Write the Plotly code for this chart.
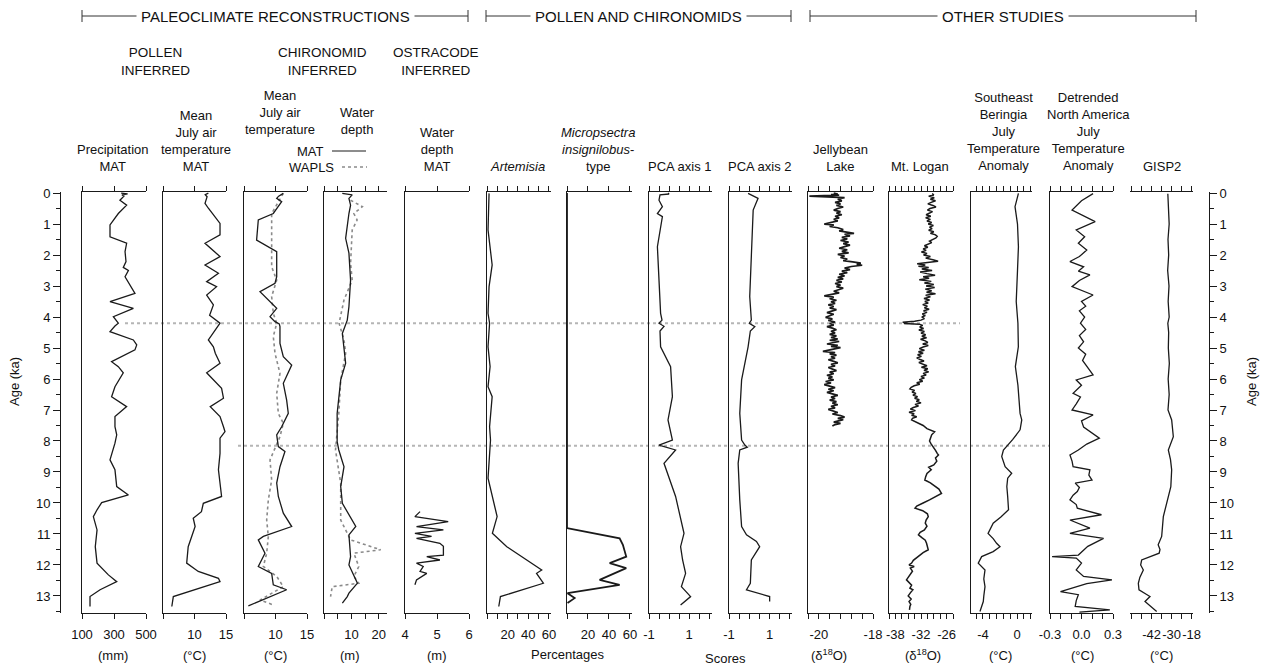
import plotly.graph_objects as go

W, H = 1271, 669
TOP_PX, BOT_PX = 191.5, 613.0
AGE_RANGE = [13.55, -0.05]
INK = "#1a1a1a"
FONT = "Liberation Sans, Arial, sans-serif"

# ---------------- data (age in ka) ----------------
precip_age = [0.00, 0.03, 0.06, 0.10, 0.23, 0.39, 0.66, 1.03, 1.41, 1.62, 1.89, 2.21, 2.40, 2.50, 2.70,
              3.24, 3.50, 3.72, 3.99, 4.20, 4.29, 4.47, 4.74, 4.90, 5.06, 5.44, 5.60, 5.80, 6.25, 6.57,
              6.89, 7.21, 7.54, 7.80, 8.07, 8.61, 8.93, 9.47, 9.74, 9.99, 10.22, 10.44, 10.87, 11.41,
              11.94, 12.32, 12.54, 12.80, 13.02, 13.34]
precip_mm = [345, 385, 350, 362, 337, 379, 327, 275, 275, 379, 369, 375, 358, 390, 369,
             431, 275, 421, 296, 327, 306, 275, 421, 442, 431, 285, 327, 358, 306, 285,
             379, 306, 306, 317, 306, 275, 306, 317, 390, 223, 194, 171, 194, 183,
             194, 265, 317, 213, 150, 150]

pollen_t_age = [0.00, 0.05, 0.12, 0.33, 0.49, 0.98, 1.35, 1.62, 2.05, 2.32, 2.59, 2.86, 3.02, 3.29, 3.61,
                3.94, 4.20, 4.74, 4.96, 5.17, 5.49, 5.80, 6.30, 6.62, 6.89, 7.21, 7.54, 7.70, 7.91,
                8.40, 8.93, 9.79, 10.01, 10.28, 10.49, 10.76, 11.41, 11.94, 12.21, 12.43, 12.54,
                13.02, 13.34]
pollen_t_val = [12.2, 11.7, 12.0, 11.67, 12.2, 14.05, 14.05, 11.67, 14.05, 11.67, 13.8, 11.93, 13.5, 11.93, 13.0,
                12.4, 14.05, 12.2, 13.0, 13.3, 14.05, 11.93, 14.3, 14.6, 12.5, 14.05, 14.6, 14.84, 14.05,
                14.05, 13.8, 14.3, 11.4, 11.1, 9.8, 10.1, 9.0, 8.76, 10.6, 13.8, 14.05,
                6.64, 6.4]

chiro_t_age = [0.01, 0.10, 0.17, 0.28, 0.66, 0.87, 1.52, 1.89, 2.70, 2.91, 3.18, 3.72, 3.99, 4.15, 4.22,
               4.31, 4.85, 5.28, 5.55, 6.14, 6.68, 7.11, 7.54, 7.80, 8.18, 8.34, 8.83, 9.36, 9.79, 10.33,
               10.76, 11.08, 11.19, 11.62, 12.05, 12.27, 12.64, 12.80, 13.32]
chiro_t_mat = [11.24, 10.5, 10.19, 10.98, 9.65, 7.27, 7.0, 10.19, 10.19, 9.92, 7.54, 10.19, 9.13, 9.92, 10.6,
               10.71, 10.71, 11.24, 12.57, 11.24, 11.77, 12.03, 10.98, 10.19, 10.45, 11.5, 10.71, 10.19, 10.45, 11.24,
               12.57, 8.07, 7.27, 8.33, 7.27, 9.39, 9.65, 11.77, 5.69]
chiro_t_w_age = [0.01, 0.66, 1.73, 2.38, 2.81, 3.34, 3.88, 4.20, 4.63, 5.17, 5.82, 6.46, 7.11, 7.43, 7.86,
                 8.40, 8.61, 9.26, 9.90, 10.55, 11.08, 11.62, 12.05, 12.37, 12.70, 13.13, 13.29]
chiro_t_wapls = [11.24, 9.39, 9.39, 9.39, 10.19, 9.39, 9.65, 10.19, 9.65, 9.92, 10.71, 10.19, 10.45, 11.24, 10.71,
                 9.65, 9.13, 9.39, 8.86, 8.6, 8.86, 8.6, 8.07, 10.19, 11.24, 7.54, 9.65]

chiro_d_age = [0.01, 0.06, 0.17, 0.39, 0.66, 1.09, 1.46, 1.94, 2.81, 3.67, 4.10, 4.53, 4.96, 5.49, 6.03,
               7.11, 7.54, 8.02, 8.29, 8.83, 9.47, 10.01, 10.76, 11.03, 11.73, 12.00, 12.59, 12.91, 13.02, 13.23]
chiro_d_mat = [6.67, 10.3, 9.1, 9.7, 9.1, 8.5, 7.9, 9.1, 9.7, 9.1, 8.5, 6.7, 7.3, 7.9, 6.1,
               4.8, 4.8, 4.8, 5.4, 7.3, 6.1, 6.7, 11.6, 9.1, 9.7, 9.1, 12.2, 9.1, 8.5, 6.7]
chiro_d_w_age = [0.23, 0.44, 0.66, 0.87, 1.19, 2.27, 2.81, 3.45, 4.20, 4.74, 5.17, 6.03, 7.11, 8.29, 9.36,
                 10.55, 11.19, 11.51, 11.62, 12.05, 12.37, 12.59, 12.70, 13.02]
chiro_d_wapls = [9.7, 14.0, 10.9, 12.1, 10.3, 9.7, 10.3, 7.3, 5.5, 7.3, 7.9, 6.1, 5.4, 4.2, 6.1,
                 6.1, 9.7, 20.7, 10.9, 12.7, 10.9, 12.7, 3.0, 2.4]

ostra_age = [10.28, 10.44, 10.60, 10.76, 10.87, 10.98, 11.08, 11.14, 11.30, 11.40, 11.68, 11.73, 11.84,
             11.94, 12.05, 12.21, 12.27, 12.48, 12.64]
ostra_depth = [4.47, 4.31, 5.35, 4.36, 5.20, 4.31, 4.83, 4.36, 5.09, 5.20, 5.20, 4.68, 5.09,
               4.36, 4.57, 4.47, 4.68, 4.36, 4.31]

artemisia_age = [0.01, 1.19, 2.32, 3.02, 3.88, 4.20, 4.96, 5.60, 6.25, 6.57, 7.54, 7.97, 9.20, 9.79, 10.44,
                 10.98, 11.41, 11.84, 12.16, 12.27, 12.59, 13.02, 13.34]
artemisia_pct = [2, 1, 5, 2, 1, 2.5, 1, 3, 1, 5, 2.5, 3.4, 1, 5.2, 9.8,
                 5.2, 19.2, 38.5, 53, 48, 54.6, 13, 11.4]

micro_age = [0.0, 10.81, 11.14, 11.35, 11.73, 11.94, 12.10, 12.48, 12.64, 12.91, 13.07, 13.23]
micro_pct = [0, 0, 50.2, 53.3, 56.5, 40.7, 56.5, 31.1, 50.2, 0.5, 7.3, 0.5]

pca1_age = [0.00, 0.03, 0.06, 0.23, 0.44, 0.66, 0.76, 1.73, 2.81, 3.88, 4.10, 4.20, 4.30, 4.45, 4.96,
            5.60, 6.57, 7.32, 7.97, 8.13, 8.29, 8.72, 9.79, 10.55, 10.98, 11.41, 11.84, 12.27, 12.70,
            13.02, 13.29]
pca1_score = [-0.05, 0.0, -0.45, -0.5, -0.33, -0.58, -0.33, -0.58, -0.5, -0.42, -0.35, -0.5, -0.25, -0.45, -0.42,
              0.08, 0.17, -0.05, 0.17, -0.5, 0.33, -0.25, 0.33, 0.58, 0.75, 0.58, 0.68, 0.83, 0.62,
              1.08, 0.58]

pca2_age = [0.01, 0.17, 0.55, 1.19, 2.27, 3.34, 4.10, 4.20, 4.31, 4.45, 4.96, 6.03, 7.11, 7.97, 8.13,
            8.20, 8.29, 8.72, 9.90, 10.76, 11.03, 11.24, 11.41, 11.84, 12.59, 12.80, 13.02, 13.18]
pca2_score = [-0.06, 0.43, 0.19, 0.15, 0.1, 0.02, 0.1, 0.0, 0.27, 0.05, -0.06, -0.38, -0.47, -0.38, -0.22,
              -0.1, -0.47, -0.55, -0.47, -0.38, -0.14, 0.35, 0.51, 0.1, 0.05, -0.14, 1.0, 1.0]

jelly_age = [0.00, 0.03, 0.05, 0.07, 0.10, 0.15, 0.20, 0.25, 0.30, 0.35,
             0.40, 0.45, 0.50, 0.55, 0.60, 0.65, 0.70, 0.75, 0.80, 0.85,
             0.90, 0.95, 1.00, 1.03, 1.08, 1.12, 1.18, 1.22, 1.27, 1.30,
             1.33, 1.38, 1.43, 1.48, 1.53, 1.58, 1.63, 1.68, 1.73, 1.78,
             1.83, 1.88, 1.93, 1.98, 2.03, 2.08, 2.13, 2.18, 2.22, 2.26,
             2.30, 2.33, 2.37, 2.42, 2.47, 2.52, 2.57, 2.62, 2.67, 2.72,
             2.77, 2.82, 2.87, 2.92, 2.97, 3.02, 3.07, 3.12, 3.17, 3.22,
             3.27, 3.32, 3.36, 3.41, 3.46, 3.51, 3.56, 3.61, 3.66, 3.71,
             3.76, 3.81, 3.86, 3.91, 3.96, 4.01, 4.06, 4.11, 4.16, 4.21,
             4.26, 4.31, 4.36, 4.41, 4.46, 4.51, 4.56, 4.61, 4.66, 4.71,
             4.75, 4.79, 4.83, 4.87, 4.91, 4.95, 4.99, 5.03, 5.07, 5.11,
             5.15, 5.19, 5.23, 5.28, 5.33, 5.38, 5.43, 5.48, 5.53, 5.58,
             5.63, 5.68, 5.73, 5.78, 5.83, 5.88, 5.93, 5.98, 6.03, 6.08,
             6.13, 6.18, 6.23, 6.28, 6.33, 6.38, 6.43, 6.48, 6.53, 6.58,
             6.63, 6.68, 6.73, 6.78, 6.83, 6.88, 6.93, 6.98, 7.03, 7.08,
             7.13, 7.18, 7.23, 7.27, 7.31, 7.35, 7.39, 7.43, 7.47, 7.52]
jelly_d18o = [-19.45, -19.30, -19.55, -19.25, -20.35, -19.05, -19.30, -19.15, -19.40, -19.20,
              -19.35, -19.10, -19.30, -19.45, -19.20, -19.35, -19.15, -19.40, -19.25, -19.45,
              -19.30, -19.55, -19.80, -19.45, -19.60, -19.30, -19.10, -19.25, -18.95, -18.70,
              -19.05, -18.85, -19.15, -18.95, -19.20, -18.90, -19.10, -18.85, -19.05, -19.25,
              -18.95, -19.15, -18.90, -19.30, -19.05, -19.20, -18.95, -19.10, -18.75, -18.45,
              -18.60, -18.40, -18.80, -19.05, -18.85, -19.15, -18.95, -19.25, -19.05, -19.30,
              -19.10, -19.35, -19.15, -19.40, -19.20, -19.35, -19.10, -19.30, -19.45, -19.25,
              -19.50, -19.80, -19.45, -19.60, -19.35, -19.55, -19.40, -19.65, -19.45, -19.60,
              -19.35, -19.55, -19.70, -19.45, -19.60, -19.75, -19.50, -19.65, -19.40, -19.60,
              -19.45, -19.70, -19.50, -19.35, -19.55, -19.40, -19.60, -19.35, -19.55, -19.30,
              -19.60, -19.25, -19.50, -19.70, -19.30, -19.55, -19.20, -19.45, -19.65, -19.85,
              -19.40, -19.60, -19.35, -19.55, -19.40, -19.65, -19.45, -19.30, -19.55, -19.40,
              -19.65, -19.50, -19.35, -19.60, -19.45, -19.70, -19.50, -19.65, -19.45, -19.75,
              -19.55, -19.80, -19.60, -19.40, -19.65, -19.45, -19.70, -19.50, -19.30, -19.55,
              -19.40, -19.60, -19.35, -19.50, -19.30, -19.55, -19.40, -19.65, -19.45, -19.30,
              -19.50, -19.20, -19.05, -19.30, -19.10, -19.25, -19.45, -19.20, -19.40, -19.50]

logan_age = [0.02, 0.06, 0.10, 0.15, 0.20, 0.25, 0.30, 0.35, 0.40, 0.45,
             0.50, 0.55, 0.60, 0.65, 0.70, 0.75, 0.80, 0.85, 0.90, 0.95,
             1.00, 1.05, 1.10, 1.15, 1.20, 1.25, 1.30, 1.35, 1.40, 1.45,
             1.50, 1.55, 1.60, 1.65, 1.70, 1.75, 1.80, 1.85, 1.90, 1.95,
             2.00, 2.05, 2.10, 2.15, 2.20, 2.24, 2.28, 2.32, 2.36, 2.40,
             2.45, 2.50, 2.55, 2.60, 2.65, 2.70, 2.75, 2.80, 2.85, 2.90,
             2.95, 3.00, 3.05, 3.10, 3.15, 3.20, 3.25, 3.30, 3.35, 3.40,
             3.45, 3.50, 3.55, 3.60, 3.65, 3.70, 3.75, 3.80, 3.85, 3.90,
             3.95, 4.00, 4.05, 4.10, 4.14, 4.17, 4.19, 4.21, 4.23, 4.27,
             4.32, 4.37, 4.42, 4.47, 4.52, 4.57, 4.62, 4.67, 4.72, 4.77,
             4.82, 4.87, 4.92, 4.97, 5.02, 5.07, 5.12, 5.17, 5.22, 5.27,
             5.32, 5.37, 5.42, 5.47, 5.52, 5.57, 5.62, 5.67, 5.72, 5.77,
             5.82, 5.87, 5.92, 5.97, 6.02, 6.07, 6.12, 6.17, 6.22, 6.27,
             6.32, 6.37, 6.42, 6.47, 6.52, 6.57, 6.62, 6.67, 6.72, 6.77,
             6.82, 6.87, 6.92, 6.97, 7.02, 7.07, 7.12, 7.17, 7.22, 7.27,
             7.32, 7.40, 7.50, 7.60, 7.70, 7.80, 7.90, 8.00, 8.10, 8.20,
             8.30, 8.40, 8.45, 8.55, 8.65, 8.77, 8.85, 8.93, 9.05, 9.15,
             9.26, 9.35, 9.45, 9.55, 9.69, 9.80, 9.90, 10.00, 10.10, 10.17,
             10.25, 10.35, 10.44, 10.55, 10.65, 10.75, 10.87, 10.95, 11.03, 11.12,
             11.20, 11.30, 11.40, 11.51, 11.60, 11.68, 11.75, 11.85, 11.94, 12.00,
             12.05, 12.10, 12.20, 12.30, 12.40, 12.48, 12.55, 12.65, 12.75, 12.80,
             12.90, 13.00, 13.10, 13.18, 13.27, 13.34, 13.45]
logan_d18o = [-29.4, -29.0, -30.2, -28.9, -29.8, -28.6, -29.6, -30.4, -29.2, -28.5,
              -29.9, -30.5, -29.3, -30.1, -30.8, -29.7, -30.9, -29.8, -30.6, -29.5,
              -30.3, -29.1, -30.0, -29.4, -30.2, -29.0, -29.8, -28.6, -28.2, -28.5,
              -29.3, -30.0, -29.5, -30.6, -31.2, -30.4, -31.5, -30.8, -31.9, -30.6,
              -31.4, -29.8, -30.9, -29.2, -28.0, -30.5, -32.9, -31.0, -32.6, -30.2,
              -31.8, -29.4, -32.2, -30.6, -28.7, -31.5, -30.1, -32.4, -29.6, -31.2,
              -29.0, -30.8, -28.8, -31.0, -29.5, -30.7, -28.6, -30.9, -29.8, -31.3,
              -30.0, -31.1, -30.3, -31.6, -30.5, -31.2, -30.1, -31.4, -30.6, -31.7,
              -31.0, -31.8, -31.2, -32.0, -33.5, -36.3, -35.2, -36.0, -32.4, -31.6,
              -32.3, -31.4, -32.5, -31.2, -32.0, -30.9, -31.8, -30.7, -32.1, -31.0,
              -30.4, -31.6, -30.3, -31.5, -32.4, -31.2, -32.6, -31.5, -32.8, -31.9,
              -33.0, -32.2, -31.3, -32.5, -31.6, -30.6, -31.9, -30.4, -31.3, -30.2,
              -31.5, -30.8, -32.0, -31.2, -32.4, -31.6, -33.0, -32.3, -33.6, -34.3,
              -34.6, -33.5, -34.1, -33.2, -33.9, -32.8, -33.5, -32.4, -33.1, -32.0,
              -33.4, -32.6, -33.8, -34.5, -33.3, -34.8, -33.6, -34.2, -33.0, -34.0,
              -34.2, -32.8, -31.5, -30.6, -28.8, -29.5, -29.8, -30.0, -29.6, -29.0,
              -28.6, -28.2, -27.9, -28.6, -28.3, -29.0, -30.2, -29.6, -30.6, -30.9,
              -31.1, -29.8, -28.7, -27.8, -27.2, -28.5, -30.0, -31.5, -33.0, -33.4,
              -31.6, -30.5, -30.3, -30.8, -31.0, -30.6, -31.2, -32.2, -32.6, -31.8,
              -31.0, -30.7, -30.5, -30.3, -31.5, -32.2, -33.0, -33.8, -34.2, -34.8,
              -33.6, -34.5, -34.0, -34.6, -35.0, -35.4, -34.8, -34.2, -34.6, -33.9,
              -34.5, -35.0, -34.3, -34.8, -34.4, -34.6, -34.7]

beringia_age = [0.01, 0.44, 1.00, 1.73, 2.50, 3.02, 3.50, 4.20, 4.96, 5.60, 6.20, 7.11, 7.32, 7.64, 7.95,
                8.29, 8.50, 8.83, 9.04, 9.20, 9.47, 9.80, 10.22, 10.45, 10.65, 10.98, 11.15, 11.30, 11.41,
                11.57, 11.73, 11.94, 12.16, 12.45, 12.70, 13.00, 13.18, 13.50]
beringia_anom = [0.16, -0.24, 0.05, 0.16, 0.05, 0.0, -0.1, 0.1, 0.15, -0.2, 0.1, 0.35, 0.55, 0.35, -0.5,
                 -1.6, -1.8, -1.4, -0.63, -1.1, -1.2, -1.1, -1.0, -1.9, -2.8, -3.4, -2.8, -2.4, -2.0,
                 -2.8, -4.15, -4.55, -3.76, -3.9, -3.76, -3.9, -3.96, -4.35]

namerica_age = [0.02, 0.25, 0.55, 0.92, 1.19, 1.41, 1.62, 1.84, 2.05, 2.21,
                2.38, 2.52, 2.64, 2.82, 3.02, 3.15, 3.29, 3.50, 3.65, 3.80,
                4.00, 4.20, 4.40, 4.60, 4.80, 5.00, 5.20, 5.40, 5.60, 5.87,
                6.03, 6.20, 6.46, 6.58, 6.80, 7.00, 7.16, 7.35, 7.55, 7.75,
                7.91, 8.10, 8.29, 8.45, 8.65, 8.83, 8.93, 9.10, 9.26, 9.36,
                9.50, 9.63, 9.75, 9.90, 10.05, 10.17, 10.38, 10.55, 10.81, 10.98,
                11.14, 11.40, 11.68, 11.73, 11.78, 11.94, 12.16, 12.37, 12.48, 12.60,
                12.86, 12.96, 13.15, 13.34, 13.45, 13.52]
namerica_anom = [0.11, 0.0, -0.09, 0.13, -0.05, 0.03, -0.03, 0.05, -0.02, -0.11,
                 0.02, -0.03, 0.08, -0.02, -0.09, 0.01, 0.11, 0.0, 0.04, -0.02,
                 0.03, -0.01, 0.04, -0.02, 0.02, -0.03, 0.04, 0.01, 0.05, 0.11,
                 -0.05, 0.0, -0.08, -0.01, -0.05, -0.09, 0.11, 0.0, 0.02, 0.11,
                 0.17, 0.05, -0.03, -0.11, -0.09, -0.08, 0.08, 0.07, 0.10, -0.06,
                 -0.02, -0.04, -0.08, -0.11, -0.05, -0.04, 0.19, -0.11, 0.08, -0.11,
                 0.21, 0.06, -0.03, -0.28, -0.05, 0.0, -0.05, 0.02, 0.29, 0.05,
                 -0.20, -0.03, -0.05, -0.06, 0.27, -0.02]

gisp2_age = [0.02, 0.5, 1.0, 1.5, 2.0, 2.5, 3.0, 3.5, 4.0, 4.2,
             4.5, 5.0, 5.5, 6.0, 6.5, 7.0, 7.32, 7.86, 8.10, 8.29,
             8.60, 8.93, 9.47, 10.01, 10.44, 11.08, 11.35, 11.50, 11.62, 11.84,
             12.00, 12.16, 12.40, 12.59, 12.80, 13.02, 13.18, 13.50]
gisp2_temp = [-32.3, -32.0, -31.5, -32.2, -31.8, -32.4, -31.6, -32.1, -31.5, -32.3,
              -31.8, -32.0, -31.4, -32.1, -31.5, -32.2, -30.0, -29.0, -30.7, -32.0,
              -30.7, -30.0, -30.5, -33.0, -35.0, -36.0, -38.1, -37.0, -37.5, -48.0,
              -48.6, -47.0, -49.1, -50.0, -49.6, -43.0, -46.0, -39.0]

event_ages = [4.2, 8.15]
age_ticks = list(range(0, 14))
age_minor = [0.5, 1.5, 2.5, 3.5, 4.5, 5.5, 6.5, 7.5, 8.5, 9.5, 10.5, 11.5, 12.5, 13.5]

# ---------------- panel layout ----------------
# x0/x1 are pixel extents of each strip
panels = [
    dict(x0=82, x1=146, rng=[100, 500], tv=[100, 300, 500], tt=["100", "300", "500"]),
    dict(x0=163, x1=226, rng=[5, 15], tv=[5, 10, 15], tt=["", "10", "15"]),
    dict(x0=244, x1=307, rng=[5, 15], tv=[5, 10, 15], tt=["", "10", "15"]),
    dict(x0=324, x1=387, rng=[0, 23], tv=[0, 5, 10, 15, 20], tt=["", "", "10", "", "20"]),
    dict(x0=405, x1=469, rng=[4, 6], tv=[4, 5, 6], tt=["4", "5", "6"]),
    dict(x0=487, x1=551, rng=[0, 62], tv=[0, 10, 20, 30, 40, 50, 60], tt=["", "", "20", "", "40", "", "60"]),
    dict(x0=567, x1=632, rng=[0, 62], tv=[0, 20, 40, 60], tt=["", "20", "40", "60"]),
    dict(x0=649, x1=712, rng=[-1, 2.15], tv=[-1, -0.5, 0, 0.5, 1, 1.5, 2], tt=["-1", "", "", "", "1", "", ""]),
    dict(x0=729, x1=792, rng=[-1, 2.1], tv=[-1, -0.5, 0, 0.5, 1, 1.5, 2], tt=["-1", "", "", "", "1", "", ""]),
    dict(x0=808, x1=873, rng=[-20.4, -18.0], tv=[-20.4, -20.0, -19.6, -19.2, -18.8, -18.4, -18.0],
         tt=["", "-20", "", "", "", "", "-18"]),
    dict(x0=889, x1=953, rng=[-39.5, -24.5],
         tv=[-39.5, -38, -36.5, -35, -33.5, -32, -30.5, -29, -27.5, -26, -24.5],
         tt=["", "-38", "", "", "", "-32", "", "", "", "-26", ""]),
    dict(x0=971, x1=1032, rng=[-5.4, 1.75], tv=[-4.8, -4.0, -3.2, -2.4, -1.6, -0.8, 0, 0.8, 1.6],
         tt=["", "-4", "", "", "", "", "0", "", ""]),
    dict(x0=1050, x1=1113, rng=[-0.3, 0.3], tv=[-0.3, -0.2, -0.1, 0, 0.1, 0.2, 0.3],
         tt=["-0.3", "", "", "0.0", "", "", "0.3"]),
    dict(x0=1130, x1=1193, rng=[-55, -17.2], tv=[-54, -48, -42, -36, -30, -24, -18],
         tt=["", "", "-42", "", "-30", "", "-18"]),
]

solid = dict(color=INK, width=1.3)
dotted = dict(color="#8a8a8a", width=1.6, dash="dot")
series = [
    [(precip_mm, precip_age, solid)],
    [(pollen_t_val, pollen_t_age, solid)],
    [(chiro_t_wapls, chiro_t_w_age, dotted), (chiro_t_mat, chiro_t_age, solid)],
    [(chiro_d_wapls, chiro_d_w_age, dotted), (chiro_d_mat, chiro_d_age, solid)],
    [(ostra_depth, ostra_age, solid)],
    [(artemisia_pct, artemisia_age, solid)],
    [(micro_pct, micro_age, dict(color=INK, width=1.8))],
    [(pca1_score, pca1_age, solid)],
    [(pca2_score, pca2_age, solid)],
    [(jelly_d18o, jelly_age, dict(color=INK, width=1.7))],
    [(logan_d18o, logan_age, dict(color=INK, width=1.5))],
    [(beringia_anom, beringia_age, solid)],
    [(namerica_anom, namerica_age, solid)],
    [(gisp2_temp, gisp2_age, solid)],
]
# the first and last strips carry the outer age scales
AGE_LEFT, AGE_RIGHT = "y15", "y16"


def px(x):
    return x / W


def py(y):
    return 1 - y / H


y_domain = [py(BOT_PX), py(TOP_PX)]
tickfont = dict(family=FONT, size=13, color="#111")
n_panels = len(panels)

fig = go.Figure()
layout = dict(
    width=W, height=H, margin=dict(l=0, r=0, t=0, b=0, autoexpand=False),
    paper_bgcolor="white", plot_bgcolor="white", showlegend=False,
    font=dict(family=FONT, size=13, color="#111"),
)

for i, (p, ser) in enumerate(zip(panels, series), start=1):
    xname = "xaxis" if i == 1 else f"xaxis{i}"
    yname = "yaxis" if i == 1 else f"yaxis{i}"
    xref = "x" if i == 1 else f"x{i}"
    yref = "y" if i == 1 else f"y{i}"
    layout[xname] = dict(
        domain=[px(p["x0"]), px(p["x1"])], range=p["rng"], anchor=yref,
        tickmode="array", tickvals=p["tv"], ticktext=p["tt"], tickangle=0,
        ticks="outside", ticklen=5, tickwidth=1, tickcolor=INK,
        showline=True, linecolor=INK, linewidth=1, mirror="ticks",
        showgrid=False, zeroline=False, tickfont=tickfont, ticklabelstandoff=4,
        automargin=False,
    )
    ycfg = dict(
        domain=y_domain, range=AGE_RANGE, anchor=xref,
        showline=True, linecolor=INK, linewidth=1.2, ticks="",
        showticklabels=False, showgrid=False, zeroline=False, automargin=False,
    )
    if i > 1:
        ycfg["matches"] = "y"
    layout[yname] = ycfg
    for vals, ages, style in ser:
        if i == 1:
            ytrace = AGE_LEFT
        elif i == n_panels:
            ytrace = AGE_RIGHT
        else:
            ytrace = yref
        fig.add_trace(go.Scatter(x=vals, y=ages, mode="lines", line=style,
                                 xaxis=xref, yaxis=ytrace, hoverinfo="skip"))

age_axis = dict(
    anchor="free", range=AGE_RANGE, domain=y_domain, automargin=False,
    tickmode="array", tickvals=age_ticks, ticktext=[str(t) for t in age_ticks],
    ticks="outside", ticklen=7, tickcolor=INK, tickwidth=1,
    minor=dict(tickvals=age_minor, ticks="outside", ticklen=4, tickcolor=INK),
    showline=True, linecolor=INK, linewidth=1,
    showgrid=False, zeroline=False, tickfont=tickfont,
)
layout["yaxis15"] = dict(age_axis, overlaying="y", side="left", position=px(60))
layout["yaxis16"] = dict(age_axis, overlaying=f"y{n_panels}", side="right", position=px(1209))

shapes = []
# event horizons across the strips
for age, (xa, xb) in zip(event_ages, [(125, 960), (238, 1050)]):
    shapes.append(dict(type="line", xref="paper", yref="y", x0=px(xa), x1=px(xb), y0=age, y1=age,
                       line=dict(color="#b5b5b5", width=2, dash="dot"), layer="below"))


def note(text, x, y, size=13, xanchor="center", yanchor="middle", **kw):
    return dict(text=text, x=px(x), y=py(y), xref="paper", yref="paper",
                xanchor=xanchor, yanchor=yanchor, showarrow=False,
                font=dict(family=FONT, size=size, color="#111"), **kw)


annotations = []
HDR_Y = 16
for label, xa, xb in [("PALEOCLIMATE RECONSTRUCTIONS", 82, 468),
                      ("POLLEN AND CHIRONOMIDS", 486, 791),
                      ("OTHER STUDIES", 810, 1196)]:
    shapes.append(dict(type="line", xref="paper", yref="paper", x0=px(xa), x1=px(xb),
                       y0=py(HDR_Y), y1=py(HDR_Y), line=dict(color="#333", width=1)))
    for xe in (xa, xb):
        shapes.append(dict(type="line", xref="paper", yref="paper", x0=px(xe), x1=px(xe),
                           y0=py(HDR_Y - 6), y1=py(HDR_Y + 6), line=dict(color="#333", width=1)))
    annotations.append(note(label, (xa + xb) / 2, HDR_Y, size=15, bgcolor="white", borderpad=4))

for label, xc in [("POLLEN<br>INFERRED", 155), ("CHIRONOMID<br>INFERRED", 322),
                  ("OSTRACODE<br>INFERRED", 436)]:
    annotations.append(note(label, xc, 61, size=13.5))

titles = [
    ("Precipitation<br>MAT", 113, 176),
    ("Mean<br>July air<br>temperature<br>MAT", 196, 176),
    ("Mean<br>July air<br>temperature", 280, 139),
    ("Water<br>depth", 357, 139),
    ("Water<br>depth<br>MAT", 437, 176),
    ("<i>Artemisia</i>", 517, 176),
    ("<i>Micropsectra</i><br><i>insignilobus</i>-<br>type", 598, 176),
    ("PCA axis 1", 680, 176),
    ("PCA axis 2", 760, 176),
    ("Jellybean<br>Lake", 840, 176),
    ("Mt. Logan", 920, 176),
    ("Southeast<br>Beringia<br>July<br>Temperature<br>Anomaly", 1003, 175),
    ("Detrended<br>North America<br>July<br>Temperature<br>Anomaly", 1088, 175),
    ("GISP2", 1162, 176),
]
for text, xc, yb in titles:
    annotations.append(note(text, xc, yb, yanchor="bottom"))

# chironomid method key
annotations.append(note("MAT", 326, 151, xanchor="right"))
annotations.append(note("WAPLS", 336, 167, xanchor="right"))
shapes.append(dict(type="line", xref="paper", yref="paper", x0=px(332), x1=px(366),
                   y0=py(151), y1=py(151), line=dict(color=INK, width=1)))
shapes.append(dict(type="line", xref="paper", yref="paper", x0=px(342), x1=px(367),
                   y0=py(167), y1=py(167), line=dict(color="#8a8a8a", width=1.5, dash="dot")))

units = [("(mm)", 113, 655), ("(°C)", 194, 655), ("(°C)", 275, 655), ("(m)", 350, 655),
         ("(m)", 437, 655), ("Percentages", 567, 654), ("Scores", 725, 658),
         ("(δ<sup>18</sup>O)", 829, 655), ("(δ<sup>18</sup>O)", 923, 655),
         ("(°C)", 1000, 655), ("(°C)", 1082, 655), ("(°C)", 1161, 655)]
for text, xc, yc in units:
    annotations.append(note(text, xc, yc))

for xc in (15, 1252):
    annotations.append(note("Age (ka)", xc, 382, textangle=-90))

layout["shapes"] = shapes
layout["annotations"] = annotations
fig.update_layout(**layout)
fig.write_html("out.html")
